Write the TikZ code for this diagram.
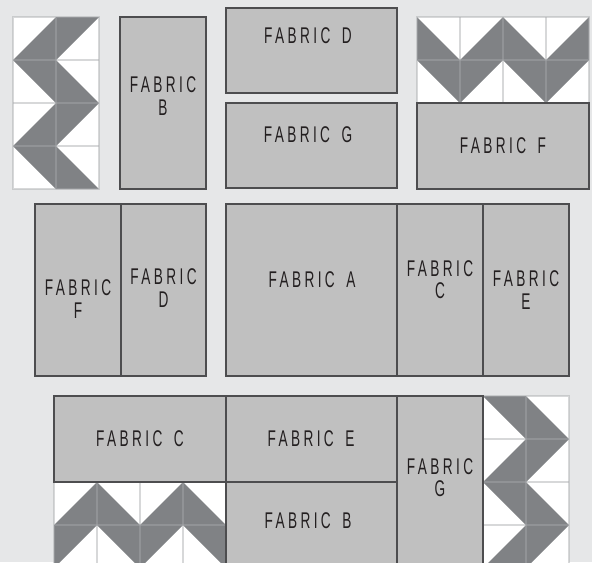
\documentclass[tikz,border=0pt]{standalone}
\usepackage{fontspec}
\setmainfont{Liberation Sans}
\newfontfamily\fabricfont{Liberation Sans}[FakeStretch=0.6,LetterSpace=15,WordSpace=1.6]
\definecolor{wall}{HTML}{E6E7E8}
\definecolor{fabricgrey}{HTML}{C0C0C0}
\definecolor{seam}{HTML}{4D4D4F}
\definecolor{chevron}{HTML}{808285}
\definecolor{gridline}{HTML}{A7A9AC}
\definecolor{ink}{HTML}{231F20}

\begin{document}
\begin{tikzpicture}[x=0.6598pt,y=-0.6598pt,
		fabric/.style={fill=fabricgrey,draw=seam,line width=0.8pt},
		lbl/.style={text=ink,align=center,inner sep=0pt,font=\fabricfont\fontsize{15pt}{14.6pt}\selectfont},
		hst/.style={fill=chevron,draw=none},
		seamline/.style={draw=gridline,line width=0.8pt,opacity=0.45},
		]
		\useasboundingbox (0,0) rectangle (592,562);
		\fill[wall] (0,0) rectangle (592,562);
		\clip (0,0) rectangle (592,562);

		% chevron blocks
		\fill[white] (13,17) rectangle (99,189);
		\fill[hst] (56,17) -- (99,17) -- (56,60) -- (99,103) -- (56,146) -- (99,189) -- (56,189) -- (13,146) -- (56,103) -- (13,60) -- cycle;
		\draw[seamline] (13,17) rectangle (99,189) (56,17) -- (56,189);
		\foreach \y in {60,103,146} \draw[seamline] (13,\y) -- (99,\y);

		\fill[white] (417,17) rectangle (589,103);
		\fill[hst] (417,17) -- (460,60) -- (503,17) -- (546,60) -- (589,17) -- (589,60) -- (546,103) -- (503,60) -- (460,103) -- (417,60) -- cycle;
		\draw[seamline] (417,17) rectangle (589,103) (417,60) -- (589,60);
		\foreach \x in {460,503,546} \draw[seamline] (\x,17) -- (\x,103);

		\fill[white] (54,482) rectangle (226,568);
		\fill[hst] (54,525) -- (97,482) -- (140,525) -- (183,482) -- (226,525) -- (226,568) -- (183,525) -- (140,568) -- (97,525) -- (54,568) -- cycle;
		\draw[seamline] (54,482) rectangle (226,568) (54,525) -- (226,525);
		\foreach \x in {97,140,183} \draw[seamline] (\x,482) -- (\x,568);

		\fill[white] (483,396) rectangle (569,568);
		\fill[hst] (483,396) -- (526,396) -- (569,439) -- (526,482) -- (569,525) -- (526,568) -- (483,568) -- (526,525) -- (483,482) -- (526,439) -- cycle;
		\draw[seamline] (483,396) rectangle (569,568) (526,396) -- (526,568);
		\foreach \y in {439,482,525} \draw[seamline] (483,\y) -- (569,\y);

		% fabric pieces
		\draw[fabric] (120,17) rectangle (206,189);
		\draw[fabric] (226,8) rectangle (397,93);
		\draw[fabric] (226,103) rectangle (397,188);
		\draw[fabric] (417,103) rectangle (589,189);

		\draw[fabric] (35,204) rectangle (121,376);
		\draw[fabric] (121,204) rectangle (206,376);
		\draw[fabric] (226,204) rectangle (397,376);
		\draw[fabric] (397,204) rectangle (483,376);
		\draw[fabric] (483,204) rectangle (569,376);

		\draw[fabric] (54,396) rectangle (226,482);
		\draw[fabric] (226,396) rectangle (397,482);
		\draw[fabric] (226,482) rectangle (397,568);
		\draw[fabric] (397,396) rectangle (483,568);

		% labels
		\node[lbl] (b1) at (163,96) {FABRIC\\B};
		\node[lbl] (d1) at (308,36) {FABRIC D};
		\node[lbl] (g1) at (308,135) {FABRIC G};
		\node[lbl] (f1) at (503,146) {FABRIC F};

		\node[lbl] (f2) at (78,299) {FABRIC\\F};
		\node[lbl] (d2) at (163.5,288) {FABRIC\\D};
		\node[lbl] (a2) at (312,280) {FABRIC A};
		\node[lbl] (c2) at (440,280) {FABRIC\\C};
		\node[lbl] (e2) at (526,290) {FABRIC\\E};

		\node[lbl] (c3) at (140,439) {FABRIC C};
		\node[lbl] (e3) at (311,439) {FABRIC E};
		\node[lbl] (b3) at (308,521) {FABRIC B};
		\node[lbl] (g3) at (440,478) {FABRIC\\G};
\end{tikzpicture}
\end{document}
